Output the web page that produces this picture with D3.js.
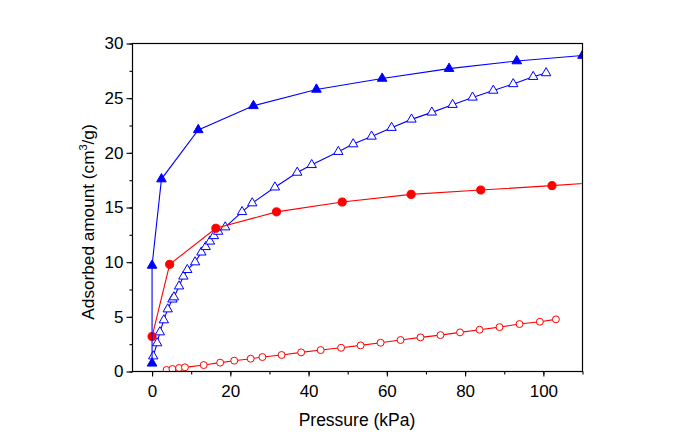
<!DOCTYPE html>
<html><head><meta charset="utf-8">
<script src="https://cdn.jsdelivr.net/npm/d3@7"></script>
<style>body{margin:0;background:#fff}svg{display:block}text{font-family:"Liberation Sans",Arial,sans-serif;fill:#000}</style>
</head><body>
<script>
// Data (x: pressure kPa, y: adsorbed amount cm3/g)
const filledTriX = [0, 0, 2.4, 11.8, 25.9, 42.0, 58.8, 75.9, 93.2, 110];
const filledTriY = [0.75, 9.7, 17.6, 22.1, 24.3, 25.8, 26.8, 27.7, 28.4, 28.9];
const openTriX = [0.3, 1.3, 2.0, 3.0, 4.0, 5.2, 5.6, 6.9, 8.0, 9.0, 11.0, 12.6, 13.7, 14.8, 15.8, 16.9, 18.7, 23.0, 25.6, 31.4, 37.1, 40.8, 47.6, 51.4, 56.1, 61.2, 66.3, 71.5, 76.8, 81.9, 87.2, 92.3, 97.4, 100.7];
const openTriY = [1.4, 2.6, 3.6, 4.7, 5.7, 6.6, 6.8, 7.8, 8.7, 9.3, 10.0, 10.9, 11.4, 11.9, 12.4, 12.8, 13.2, 14.6, 15.4, 16.85, 18.2, 18.9, 20.1, 20.8, 21.5, 22.3, 23.06, 23.7, 24.4, 25.07, 25.7, 26.3, 26.96, 27.3];
const filledCircX = [0, 4.5, 16.3, 31.8, 48.6, 66.2, 84.0, 102.2, 120];
const filledCircY = [3.2, 9.8, 13.1, 14.6, 15.5, 16.2, 16.6, 17.0, 17.45];
const openCircX = [3.7, 5.2, 6.9, 8.4, 13.2, 17.4, 21.0, 25.2, 28.2, 33.1, 38.1, 43.1, 48.3, 53.3, 58.4, 63.5, 68.6, 73.7, 78.7, 83.7, 88.8, 93.9, 99.1, 103.2];
const openCircY = [0.14, 0.23, 0.32, 0.38, 0.59, 0.81, 0.99, 1.17, 1.32, 1.51, 1.75, 1.96, 2.17, 2.39, 2.63, 2.88, 3.12, 3.33, 3.58, 3.82, 4.06, 4.34, 4.55, 4.77];
const xTicks = [0, 20, 40, 60, 80, 100];
const yTicks = [0, 5, 10, 15, 20, 25, 30];
const xLabel = "Pressure (kPa)";

const W = 677, H = 447;
const L = 132.5, R = 582.5, T = 43.5, B = 371.5;
const svg = d3.select("body").append("svg").attr("width", W).attr("height", H);
const x = d3.scaleLinear().domain([-5, 110]).range([L, R]);
const y = d3.scaleLinear().domain([0, 30]).range([B, T]);

svg.append("clipPath").attr("id", "c").append("rect")
  .attr("x", L).attr("y", T - 10).attr("width", R - L).attr("height", B - T + 10);
const g = svg.append("g").attr("clip-path", "url(#c)");

const zip = (a, b) => a.map((v, i) => [v, b[i]]);
const line = d3.line().x(d => x(d[0])).y(d => y(d[1]));

function series(xs, ys, color, shape, filled, size) {
  const data = zip(xs, ys);
  g.append("path").attr("d", line(data)).attr("fill", "none").attr("stroke", color).attr("stroke-width", 1.1);
  g.selectAll(null).data(data).enter().append("path")
    .attr("d", d3.symbol().type(shape === "tri" ? d3.symbolTriangle : d3.symbolCircle).size(size)())
    .attr("transform", d => `translate(${x(d[0])},${y(d[1])})`)
    .attr("fill", filled ? color : "#fff")
    .attr("stroke", color).attr("stroke-width", 1);
}
series(openCircX, openCircY, "#ff0000", "circ", false, 38);
series(openTriX, openTriY, "#0000ff", "tri", false, 38);
series(filledCircX, filledCircY, "#ff0000", "circ", true, 52);
series(filledTriX, filledTriY, "#0000ff", "tri", true, 40);

// frame
svg.append("rect").attr("x", L).attr("y", T).attr("width", R - L).attr("height", B - T)
  .attr("fill", "none").attr("stroke", "#000").attr("stroke-width", 1.2);

const FONT = "Liberation Sans, Arial, sans-serif";
// x axis
const xa = svg.append("g").attr("transform", `translate(0,${B})`);
xa.call(d3.axisBottom(x).tickValues(d3.range(0, 111, 10)).tickSize(3).tickFormat(""))
  .call(a => a.select(".domain").remove());
xa.append("g").call(d3.axisBottom(x).tickValues(xTicks).tickSize(5).tickFormat(d3.format("d")))
  .call(a => a.select(".domain").remove())
  .call(a => a.selectAll("text").attr("font-size", 17).attr("dy", "1.0em").attr("fill", "#000").attr("font-family", FONT));
xa.selectAll("line").attr("stroke", "#000").attr("stroke-width", 1.1);

// y axis
const ya = svg.append("g").attr("transform", `translate(${L},0)`);
ya.call(d3.axisLeft(y).tickValues(d3.range(0, 30.1, 2.5)).tickSize(3).tickFormat(""))
  .call(a => a.select(".domain").remove());
ya.append("g").call(d3.axisLeft(y).tickValues(yTicks).tickSize(6).tickFormat(d3.format("d")))
  .call(a => a.select(".domain").remove())
  .call(a => a.selectAll("text").attr("font-size", 17).attr("x", -9).attr("fill", "#000").attr("font-family", FONT));
ya.selectAll("line").attr("stroke", "#000").attr("stroke-width", 1.1);

// titles
svg.append("text").attr("x", 357).attr("y", 426).attr("text-anchor", "middle")
  .attr("font-size", 17.5).text(xLabel);
const yt = svg.append("text").attr("transform", `translate(94,222) rotate(-90)`)
  .attr("text-anchor", "middle").attr("font-size", 17.2);
yt.append("tspan").text("Adsorbed amount (cm");
yt.append("tspan").attr("font-size", 11).attr("dy", -7).text("3");
yt.append("tspan").attr("dy", 7).text("/g)");
</script>
</body></html>
